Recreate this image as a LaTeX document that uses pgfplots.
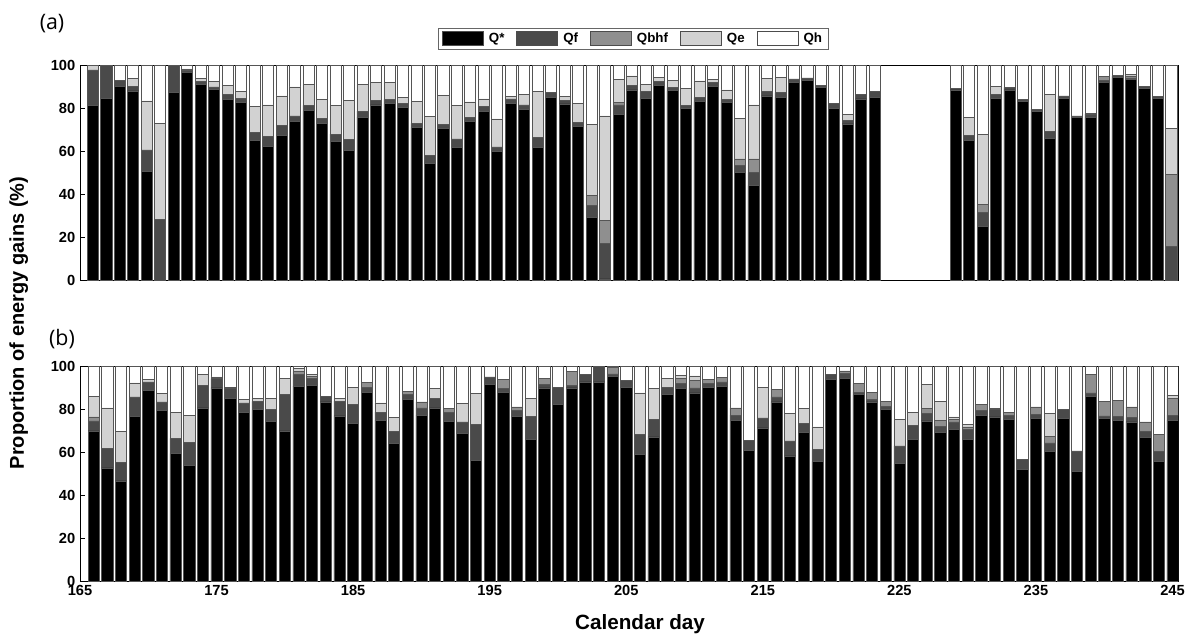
\documentclass[border=0pt]{standalone}
\usepackage{fontspec}
\setmainfont{Liberation Sans}
\newfontfamily\panelfont{Open Sans}
\usepackage{pgfplots}
\usepackage{pgfplotstable}
\pgfplotsset{compat=1.18}
\definecolor{cqf}{HTML}{4A4A4A}
\definecolor{cqb}{HTML}{8F8F8F}
\definecolor{cqe}{HTML}{D2D2D2}
\definecolor{edge}{HTML}{555555}

\pgfplotstableread{
day qs qf qb qe qh
165 81.1 16.6 0 2.3 0
166 84.3 15.7 0 0 0
167 90.0 3.0 0 0 7.0
168 88.0 2.2 0 3.6 6.2
169 50.7 9.8 0 22.8 16.7
170 0 28.2 0 44.7 27.1
171 87.4 12.6 0 0 0
172 96.7 0.7 0 0.8 1.8
173 91.0 1.4 0 1.4 6.2
174 88.5 1.3 0 2.6 7.6
175 84.0 2.2 0 4.5 9.3
176 82.6 1.7 0 3.6 12.1
177 65.1 3.4 0 12.3 19.2
178 62.0 4.7 0 14.7 18.6
179 67.1 4.8 0 13.7 14.4
180 73.6 2.7 0 13.5 10.2
181 78.8 2.4 0 9.8 9.0
182 72.9 2.1 0 8.9 16.1
183 64.5 3.4 0 13.2 18.9
184 60.2 5.2 0 18.2 16.4
185 75.8 2.8 0 12.3 9.1
186 81.4 2.2 0 8.3 8.1
187 82.2 1.8 0 7.9 8.1
188 80.3 1.9 0 2.6 15.2
189 71.0 1.9 0 10.0 17.1
190 54.3 3.8 0 18.0 23.9
191 70.4 2.0 0 13.5 14.1
192 61.7 3.9 0 15.5 18.9
193 73.6 2.1 0 7.1 17.2
194 78.6 2.2 0 3.4 15.8
195 59.8 2.1 0 13.0 25.1
196 82.2 2.0 0 1.1 14.7
197 79.4 2.0 0 5.0 13.6
198 61.6 4.6 0 21.4 12.4
199 85.0 2.3 0 0 12.7
200 81.9 1.8 0 1.6 14.7
201 71.3 2.0 0 8.9 17.8
202 29.1 5.5 4.9 32.9 27.6
203 0.5 16.5 10.6 48.7 23.7
204 76.9 4.5 1.1 10.8 6.7
205 88.4 2.0 0 4.5 5.1
206 84.5 3.1 0 3.4 9.0
207 90.5 1.9 0 2.0 5.6
208 88.1 1.5 0 3.1 7.3
209 79.7 1.4 0 8.0 10.9
210 82.9 2.1 0 7.6 7.4
211 90.1 1.8 0 1.3 6.8
212 82.6 1.4 0 4.4 11.6
213 50.1 3.1 3.1 18.9 24.8
214 44.0 5.9 6.4 25.1 18.6
215 85.6 2.0 0 6.0 6.4
216 85.0 2.1 0 7.2 5.7
217 91.8 1.7 0 0 6.5
218 92.7 1.3 0 0 6.0
219 89.6 1.1 0 0 9.3
220 79.7 2.3 0 0 18.0
221 72.6 1.8 0 2.8 22.8
222 84.2 2.0 0 0 13.8
223 85.0 2.6 0 0 12.4
229 88.4 0.7 0 0 10.9
230 65.1 2.2 0 8.4 24.3
231 25.1 6.2 3.9 32.6 32.2
232 84.5 2.0 0 3.4 10.1
233 88.4 1.2 0 0 10.4
234 82.9 1.1 0 0 16.0
235 78.3 1.2 0 0 20.5
236 65.7 3.3 0 17.4 13.6
237 84.5 1.1 0 0 14.4
238 75.5 0.8 0 0 23.7
239 75.5 1.6 0 0.4 22.5
240 91.8 1.2 1.6 0 5.4
241 94.1 0.9 0 0 5.0
242 93.3 0.7 0.9 0.8 4.3
243 89.1 0.8 0 0 10.1
244 84.5 0.8 0 0 14.7
245 0 15.8 33.3 21.4 29.5
}\topdata

\pgfplotstableread{
day qs qf qb qe qh
166 69.8 4.7 1.8 9.6 14.1
167 52.6 9.0 0 18.9 19.5
168 46.6 8.5 0 14.6 30.3
169 76.6 9.0 0 6.5 7.9
170 88.7 3.9 0 1.2 6.2
171 79.4 3.9 0 3.9 12.8
172 59.4 6.9 0 12.1 21.6
173 53.6 10.8 0 12.6 23.0
174 80.5 10.5 0 5.1 3.9
175 89.8 4.3 0 0.8 5.1
176 85.1 4.7 0 0.4 9.8
177 78.6 4.2 0 1.6 15.6
178 79.7 3.9 0 1.5 14.9
179 74.3 5.6 0 5.2 14.9
180 69.8 17.0 0 7.6 5.6
181 90.6 5.4 1.5 1.3 1.2
182 91.0 3.1 1.0 1.0 3.9
183 83.3 2.6 0 0 14.1
184 76.8 6.9 0 1.1 15.2
185 73.2 8.8 0 8.2 9.8
186 87.9 2.3 2.1 0 7.7
187 74.8 3.8 0 4.2 17.2
188 63.9 5.8 0 6.5 23.8
189 84.5 2.3 1.4 0 11.8
190 77.1 3.4 2.8 0 16.7
191 80.5 4.3 0 4.7 10.5
192 74.3 4.0 1.9 0 19.8
193 68.6 5.4 0 8.5 17.5
194 56.0 16.9 0 14.3 12.8
195 91.3 3.6 0 0 5.1
196 87.9 1.6 4.3 0 6.2
197 76.6 2.8 1.6 0 19.0
198 65.9 10.7 0 8.2 15.2
199 89.8 1.5 3.1 0 5.6
200 82.2 8.0 0 0 9.8
201 89.8 1.2 6.5 0 2.5
202 92.6 3.5 0 0 3.9
203 92.6 7.4 0 0 0
204 95.0 1.3 2.9 0 0.8
205 90.2 3.1 0 0 6.7
206 58.8 9.5 0 19.2 12.5
207 67.0 8.1 0 14.4 10.5
208 86.8 3.4 0 3.9 5.9
209 89.5 2.3 2.6 1.3 4.3
210 87.5 2.3 3.5 2.1 4.6
211 90.2 1.6 2.0 0 6.2
212 90.7 1.9 2.1 0 5.3
213 74.8 2.3 3.4 0 19.5
214 60.8 4.7 0 0 34.5
215 71.2 4.7 0 14.3 9.8
216 83.3 2.3 3.6 0 10.8
217 58.2 7.0 0 12.7 22.1
218 69.3 3.9 0 7.0 19.8
219 55.7 5.4 0 10.6 28.3
220 93.7 2.4 0 0 3.9
221 94.4 2.0 1.3 0 2.3
222 86.7 1.2 3.9 0 8.2
223 83.3 1.1 3.2 0 12.4
224 79.9 1.4 2.4 0 16.3
225 54.6 8.2 0 12.3 24.9
226 65.9 6.5 0 5.9 21.7
227 74.5 3.4 2.3 11.3 8.5
228 69.0 3.0 2.8 8.9 16.3
229 70.4 3.6 1.1 1.2 23.7
230 65.8 4.8 1.1 1.2 27.1
231 77.1 2.3 2.8 0 17.8
232 76.3 3.6 0.3 0 19.8
233 75.1 2.0 1.5 0 21.4
234 52.0 4.5 0 0 43.5
235 75.5 2.1 3.4 0 19.0
236 60.1 4.1 3.1 10.6 22.1
237 75.5 4.4 0 0 20.1
238 50.8 9.7 0 0 39.5
239 85.9 1.6 8.6 0 3.9
240 75.5 1.3 6.8 0 16.4
241 74.8 1.8 7.5 0 15.9
242 74.0 2.0 5.0 0 19.0
243 66.7 3.0 4.3 0 26.0
244 55.7 4.7 7.7 0 31.9
245 74.8 2.3 7.7 1.6 13.6
}\botdata

\pgfplotsset{panel/.style={
  width=823.5pt, height=161.25pt, scale only axis,
  ybar stacked, bar width=0.82,
  ymin=0, ymax=100, ytick={0,20,...,100},
  tick align=inside, ytick pos=both,
  major tick length=3.5pt,
  tick style={black, line width=0.5pt},
  tick label style={font=\fontsize{11}{13}\selectfont\bfseries},
  /pgf/number format/assume math mode=true,
  axis line style={black, line width=0.6pt},
  every axis plot/.append style={draw=edge, line width=0.45pt},
  area legend,
}}

\begin{document}
\begin{tikzpicture}
\path[use as bounding box] (-60pt,48.75pt) rectangle (833.25pt,-431.25pt);

\begin{axis}[panel, at={(0pt,0pt)}, anchor=north west,
  xmin=164.05, xmax=245.5, xtick=\empty,
  legend columns=5,
  legend style={at={(0.504,1.123)}, anchor=center, draw=black!60, line width=0.5pt,
    font=\fontsize{10}{12}\selectfont\bfseries, inner xsep=3pt, inner ysep=1.5pt,
    /tikz/every odd column/.append style={column sep=2pt},
    /tikz/every even column/.append style={column sep=7pt}},
  legend image code/.code={\draw[#1, draw=black!70, line width=0.4pt] (0cm,-0.18cm) rectangle (1.08cm,0.18cm);},
]
\addplot[fill=black] table[x=day, y=qs] {\topdata};
\addplot[fill=cqf] table[x=day, y=qf] {\topdata};
\addplot[fill=cqb] table[x=day, y=qb] {\topdata};
\addplot[fill=cqe] table[x=day, y=qe] {\topdata};
\addplot[fill=white] table[x=day, y=qh] {\topdata};
\legend{Q*, Qf, Qbhf, Qe, Qh}
\end{axis}

\begin{axis}[panel, at={(0pt,-225.75pt)}, anchor=north west,
  xmin=165, xmax=245.4, xtick={165,175,...,245}, xtick pos=bottom,
]
\addplot[fill=black] table[x=day, y=qs] {\botdata};
\addplot[fill=cqf] table[x=day, y=qf] {\botdata};
\addplot[fill=cqb] table[x=day, y=qb] {\botdata};
\addplot[fill=cqe] table[x=day, y=qe] {\botdata};
\addplot[fill=white] table[x=day, y=qh] {\botdata};
\end{axis}

\node[font=\panelfont\fontsize{16}{18}\selectfont] at (-21pt,30.75pt) {(a)};
\node[font=\panelfont\fontsize{16}{18}\selectfont] at (-13.5pt,-205.5pt) {(b)};
\node[rotate=90, font=\fontsize{15}{17}\selectfont\bfseries] at (-46pt,-193.5pt) {Proportion of energy gains (\%)};
\node[font=\fontsize{15.5}{17}\selectfont\bfseries] at (420pt,-419.25pt) {Calendar day};
\end{tikzpicture}
\end{document}
